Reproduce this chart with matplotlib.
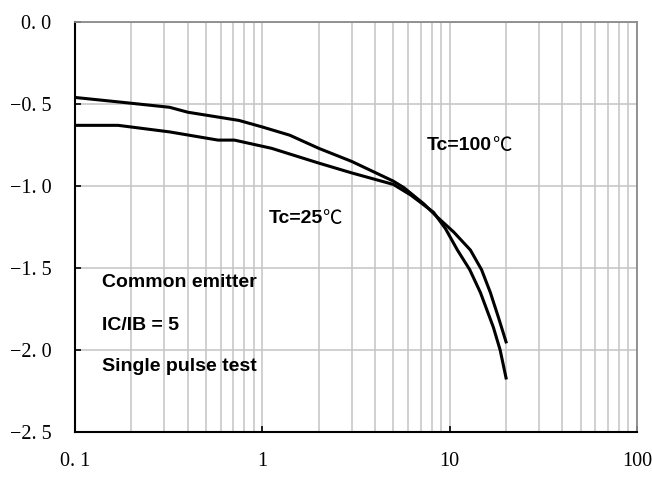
import numpy as np
import matplotlib.pyplot as plt
from matplotlib.ticker import FixedLocator, LogLocator, NullFormatter

# Collector current (A) vs saturation voltage (V)
ic_a = [0.1, 0.18, 0.32, 0.4, 0.75, 1.0, 1.4, 2.0, 3.0, 5.0, 5.7, 7.3, 8.6, 10.5, 12.9, 14.8, 16.5, 18.2, 20.0]
v_a = [-0.46, -0.49, -0.52, -0.55, -0.60, -0.64, -0.69, -0.77, -0.85, -0.97, -1.01, -1.11, -1.19, -1.28, -1.39, -1.51, -1.65, -1.80, -1.95]

ic_b = [0.1, 0.17, 0.32, 0.58, 0.71, 1.12, 2.0, 3.0, 5.0, 6.2, 8.2, 9.5, 11.0, 12.8, 14.6, 17.1, 18.6, 20.0]
v_b = [-0.63, -0.63, -0.67, -0.72, -0.72, -0.77, -0.86, -0.92, -0.99, -1.055, -1.16, -1.26, -1.39, -1.51, -1.65, -1.86, -2.0, -2.17]

y_ticks = [0.0, -0.5, -1.0, -1.5, -2.0, -2.5]
y_labels = ['0. 0', '\u22120. 5', '\u22121. 0', '\u22121. 5', '\u22122. 0', '\u22122. 5']
x_ticks = [0.1, 1, 10, 100]
x_labels = ['0. 1', '1', '10', '100']

notes = ['Common emitter', 'IC/IB = 5', 'Single pulse test']
note_y = [-1.585, -1.85, -2.10]

fig = plt.figure(figsize=(6.52, 4.78), dpi=100)
ax = fig.add_axes([0.115, 0.096, 0.862, 0.858])

ax.set_xscale('log')
ax.set_xlim(0.1, 100)
ax.set_ylim(-2.5, 0.0)

ax.plot(ic_a, v_a, color='black', lw=2.2, solid_joinstyle='round')
ax.plot(ic_b, v_b, color='black', lw=2.2, solid_joinstyle='round')

# grid
ax.xaxis.set_major_locator(FixedLocator(x_ticks))
ax.xaxis.set_minor_locator(LogLocator(base=10, subs=np.arange(2, 10)))
ax.xaxis.set_minor_formatter(NullFormatter())
ax.set_yticks(y_ticks)
ax.grid(True, which='both', axis='x', color='#c4c4c4', lw=1.1)
ax.grid(True, which='major', axis='y', color='#c4c4c4', lw=1.1)
ax.set_axisbelow(True)

tick_font = {'family': ['Liberation Serif', 'DejaVu Serif'], 'size': 14.5}
ax.set_xticklabels(x_labels, fontdict=tick_font)
ax.set_yticklabels(y_labels, fontdict=tick_font)
ax.tick_params(axis='both', which='major', direction='in', length=4, width=1.2, color='black')
ax.tick_params(axis='x', which='major', pad=14)
ax.tick_params(axis='y', which='major', pad=17)
ax.tick_params(axis='x', which='minor', length=0)

for s in ['left', 'bottom']:
    ax.spines[s].set_color('black')
    ax.spines[s].set_linewidth(1.5)
for s in ['top', 'right']:
    ax.spines[s].set_color('#8a8a8a')
    ax.spines[s].set_linewidth(1.3)

bold = {'family': 'Liberation Sans', 'weight': 'bold', 'size': 14}
for t, y in zip(notes, note_y):
    ax.text(0.139, y, t, fontdict=bold, va='center', ha='left')

# Tc labels: bold part, then a thin degree sign placed right after it
t1 = ax.text(7.55, -0.75, 'Tc=100', fontdict=bold, va='center', ha='left')
t2 = ax.text(1.076, -1.195, 'Tc=25', fontdict=bold, va='center', ha='left')
fig.canvas.draw()
r = fig.canvas.get_renderer()
for t in [t1, t2]:
    bb = t.get_window_extent(renderer=r)
    xd, yd = ax.transData.inverted().transform((bb.x1, (bb.y0 + bb.y1) / 2))
    ax.text(xd, yd, '\u2103', family=['Noto Sans CJK SC', 'DejaVu Sans'],
            size=14, va='center', ha='left', weight='light')

fig.savefig('out.png', dpi=100)
